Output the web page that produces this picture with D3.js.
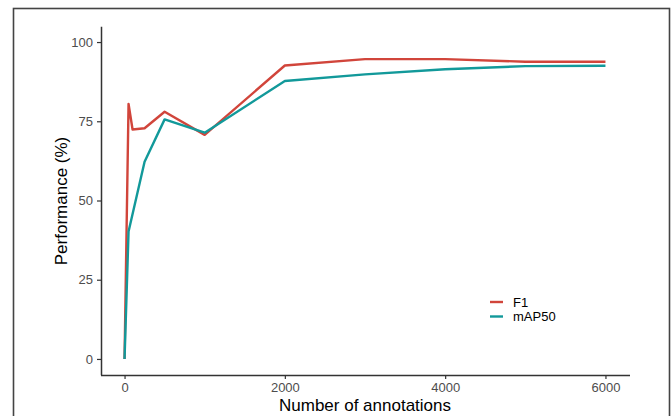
<!DOCTYPE html>
<html>
<head>
<meta charset="utf-8">
<script src="https://cdn.jsdelivr.net/npm/d3@7"></script>
<style>
  body { margin: 0; background: #fff; }
  svg { display: block; font-family: "Liberation Sans", Arial, sans-serif; }
</style>
</head>
<body>
<script>
// data
var f1X = [0, 50, 100, 250, 500, 1000, 2000, 3000, 4000, 5000, 6000];
var f1Y = [0, 80.5, 72.4, 72.8, 78.0, 70.7, 92.6, 94.6, 94.6, 93.8, 93.8];
var mapX = [0, 50, 250, 500, 1000, 2000, 3000, 4000, 5000, 6000];
var mapY = [0, 40.2, 62.2, 75.6, 71.4, 87.7, 89.8, 91.4, 92.4, 92.5];
var seriesNames = ["F1", "mAP50"];
var seriesColors = ["#d1453b", "#12999a"];
var xTicks = [0, 2000, 4000, 6000];
var yTicks = [0, 25, 50, 75, 100];

var W = 672, H = 416;
var svg = d3.select("body").append("svg").attr("width", W).attr("height", H);

// outer frame
svg.append("rect").attr("x", 13.5).attr("y", 8.5).attr("width", 656).attr("height", 420)
  .attr("fill", "none").attr("stroke", "#444").attr("stroke-width", 1.6);

var x = d3.scaleLinear().domain([-300, 6300]).range([100.5, 629.5]);
var y = d3.scaleLinear().domain([-5, 105]).range([374.8, 26.2]);

// axes
var gx = svg.append("g").attr("transform", "translate(0,375)")
  .call(d3.axisBottom(x).tickValues(xTicks).tickSizeInner(4).tickSizeOuter(0).tickPadding(4)
    .tickFormat(d3.format("d")));
var gy = svg.append("g").attr("transform", "translate(101,0)")
  .call(d3.axisLeft(y).tickValues(yTicks).tickSizeInner(4).tickSizeOuter(0).tickPadding(4));
[gx, gy].forEach(function(g) {
  g.select(".domain").attr("stroke", "#333").attr("stroke-width", 1.5);
  g.selectAll(".tick line").attr("stroke", "#333").attr("stroke-width", 1.2);
  g.selectAll(".tick text").attr("fill", "#4d4d4d").style("font-size", "13px")
    .style("font-family", "Liberation Sans, Arial, sans-serif");
});

// axis titles
svg.append("text").attr("x", 365).attr("y", 411).attr("text-anchor", "middle")
  .style("font-size", "17px").attr("fill", "#000").text("Number of annotations");
svg.append("text").attr("transform", "translate(67,201) rotate(-90)").attr("text-anchor", "middle")
  .style("font-size", "17px").attr("fill", "#000").text("Performance (%)");

// lines
var line = d3.line().x(function(d) { return x(d[0]); }).y(function(d) { return y(d[1]); });
var f1 = d3.zip(f1X, f1Y), map = d3.zip(mapX, mapY);
[f1, map].forEach(function(s, i) {
  svg.append("path").datum(s).attr("d", line)
    .attr("fill", "none").attr("stroke", seriesColors[i]).attr("stroke-width", 2.4)
    .attr("stroke-linejoin", "round");
});

// legend
var lg = svg.append("g").attr("transform", "translate(490,302)");
seriesNames.forEach(function(n, i) {
  lg.append("line").attr("x1", 0).attr("x2", 13).attr("y1", i * 14.5).attr("y2", i * 14.5)
    .attr("stroke", seriesColors[i]).attr("stroke-width", 2.4);
  lg.append("text").attr("x", 23).attr("y", i * 14.5 + 4.5).style("font-size", "13px")
    .attr("fill", "#000").text(n);
});
</script>
</body>
</html>
